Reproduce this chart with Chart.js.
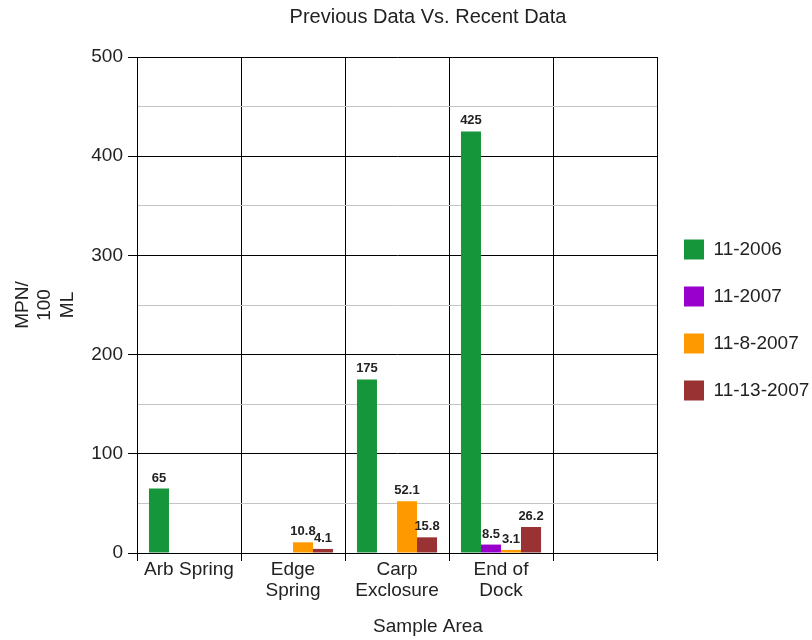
<!DOCTYPE html>
<html><head><meta charset="utf-8">
<script src="https://cdn.jsdelivr.net/npm/chart.js@4/dist/chart.umd.min.js"></script>
<style>html,body{margin:0;padding:0;background:#fff}</style>
</head><body>
<canvas id="c" width="812" height="640"></canvas>
<script>
const chartTitle = 'Previous Data Vs. Recent Data';
const xAxisTitle = 'Sample Area';
const yAxisTitle = ['MPN/', '100', 'ML'];
const categories = ['Arb Spring', ['Edge', 'Spring'], ['Carp', 'Exclosure'], ['End of', 'Dock'], ''];
const seriesNames = ['11-2006', '11-2007', '11-8-2007', '11-13-2007'];
const s11_2006 = [65, null, 175, 425, null];
const s11_2007 = [null, null, null, 8.5, null];
const s11_8_2007 = [null, 10.8, 52.1, 3.1, null];
const s11_13_2007 = [null, 4.1, 15.8, 26.2, null];
const seriesColors = ['#16963a', '#9900cc', '#ff9900', '#993333'];
const yMin = 0, yMax = 500, yMajorStep = 100, yMinorStep = 50;

const FONT = '"Liberation Sans", Arial, sans-serif';
const seriesData = [s11_2006, s11_2007, s11_8_2007, s11_13_2007];

const extras = {
  id: 'extras',
  afterDatasetsDraw(chart) {
    const ctx = chart.ctx;
    ctx.save();
    ctx.font = 'bold 13px ' + FONT;
    ctx.fillStyle = '#222';
    ctx.textAlign = 'center';
    ctx.textBaseline = 'alphabetic';
    chart.data.datasets.forEach((ds, i) => {
      const meta = chart.getDatasetMeta(i);
      meta.data.forEach((bar, j) => {
        const v = ds.data[j];
        if (v === null || v === undefined) return;
        ctx.fillText(String(v), bar.x, bar.y - 7);
      });
    });
    ctx.restore();
  },
  afterDraw(chart) {
    const ctx = chart.ctx;
    ctx.save();
    ctx.fillStyle = '#222';
    ctx.textAlign = 'center';
    ctx.textBaseline = 'middle';
    ctx.font = '20px ' + FONT;
    ctx.fillText(chartTitle, 428, 17);
    ctx.font = '19px ' + FONT;
    ctx.fillText(xAxisTitle, 428, 627);
    ctx.restore();
  }
};

new Chart(document.getElementById('c'), {
  type: 'bar',
  data: {
    labels: categories,
    datasets: seriesNames.map((n, i) => ({
      label: n,
      data: seriesData[i],
      backgroundColor: seriesColors[i],
      borderColor: seriesColors[i],
      borderWidth: 0,
      categoryPercentage: 0.77,
      barPercentage: 1.0
    }))
  },
  options: {
    responsive: false,
    animation: false,
    devicePixelRatio: 1,
    layout: { padding: 0 },
    plugins: {
      title: { display: false },
      subtitle: {
        display: true, text: '', fullSize: false, position: 'top',
        font: { size: 10, lineHeight: 1 },
        padding: { top: 0, bottom: 47 }
      },
      tooltip: { enabled: false },
      legend: {
        position: 'right',
        maxWidth: 155,
        labels: {
          boxWidth: 20, boxHeight: 20, padding: 27,
          color: '#222',
          font: { family: FONT, size: 19 }
        }
      }
    },
    scales: {
      x: {
        grid: { offset: true, color: '#000', lineWidth: 1, tickLength: 8, tickColor: '#000' },
        border: { display: true, color: '#000' },
        ticks: { color: '#222', padding: -2, maxRotation: 0, autoSkip: false,
          font: { family: FONT, size: 19, lineHeight: 1.1 } },
        afterFit(scale) { scale.height = 87; }
      },
      y: {
        min: yMin, max: yMax,
        grid: {
          color: c => (c.tick && c.tick.value % yMajorStep === 0) ? '#000' : '#c4c4c4',
          tickColor: c => (c.tick && c.tick.value % yMajorStep === 0) ? '#000' : 'rgba(0,0,0,0)',
          tickLength: 9, lineWidth: 1
        },
        border: { display: true, color: '#000' },
        ticks: {
          stepSize: yMinorStep, padding: 5, color: '#222',
          font: { family: FONT, size: 19 },
          callback: v => (v % yMajorStep === 0) ? String(v) : ''
        },
        title: {
          display: true, text: yAxisTitle, color: '#222',
          font: { family: FONT, size: 19, lineHeight: 1.2 },
          padding: { top: 11, bottom: 0 }
        },
        afterFit(scale) { scale.width = 137; }
      }
    }
  },
  plugins: [extras]
});
</script>
</body></html>
